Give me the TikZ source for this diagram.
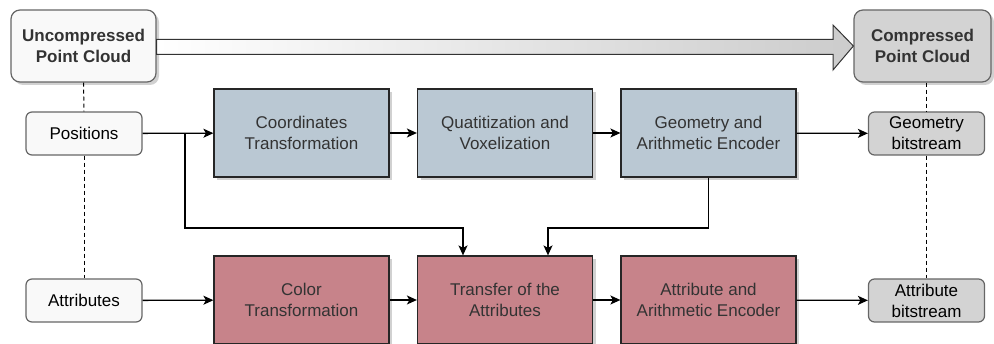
\documentclass[tikz,border=0pt]{standalone}
\usepackage{fontspec}
\setmainfont{Liberation Sans}
\usetikzlibrary{arrows.meta,shadows,positioning}
\definecolor{edgegray}{HTML}{666666}
\definecolor{txtgray}{HTML}{333333}
\definecolor{geofill}{HTML}{BAC8D3}
\definecolor{attrfill}{HTML}{C7838A}
\definecolor{outfill}{HTML}{D3D3D3}
\definecolor{infill}{HTML}{F9F9F9}
\tikzset{
  txt/.style={font=\fontsize{17}{21}\selectfont, align=center, inner sep=0pt},
  cloudbox/.style={txt, draw=edgegray, line width=1.2pt, rounded corners=9pt,
    minimum height=72pt, font=\fontsize{17}{21}\selectfont\bfseries, text=txtgray,
    drop shadow={shadow xshift=3pt, shadow yshift=-3pt, fill=black!30, opacity=0.6}},
  databox/.style={txt, draw=edgegray, line width=1.2pt, rounded corners=6pt,
    minimum width=116pt, minimum height=43pt},
  procbox/.style={txt, draw=black!85, line width=1.2pt, text=txtgray,
    minimum width=175pt, minimum height=88pt,
    drop shadow={shadow xshift=3pt, shadow yshift=-3pt, fill=black!30, opacity=0.6}},
  flow/.style={line width=1.3pt, -{Stealth[length=10pt,width=9pt,inset=2.5pt]}},
  guide/.style={line width=1pt, dash pattern=on 4pt off 3pt},
}
\begin{document}
\begin{tikzpicture}[x=1pt,y=-1pt]
\useasboundingbox (0,0) rectangle (994,344);

% top row: input and output clouds
\node[cloudbox, fill=infill, minimum width=145pt] (unc) at (83.5,46) {Uncompressed\\Point Cloud};
\node[cloudbox, fill=outfill, minimum width=137pt] (comp) at (922.5,46) {Compressed\\Point Cloud};

% big compression arrow between the clouds
\shade[left color=white, right color=black!20, draw=black!80, line width=1pt]
  (unc.east |- 0,39.5) -- (833,39.5) -- (833,25) -- (comp.west) -- (833,70) -- (833,54.5)
  -- (unc.east |- 0,54.5) -- cycle;

% data components
\node[databox, fill=infill] (pos) at (84,133.5) {Positions};
\node[databox, fill=infill] (att) at (84,300.5) {Attributes};
\node[databox, fill=outfill] (gbit) at (926.5,133.5) {Geometry\\bitstream};
\node[databox, fill=outfill] (abit) at (926.5,300.5) {Attribute\\bitstream};

% geometry chain
\node[procbox, fill=geofill] (coord) at (301.5,133) {Coordinates\\Transformation};
\node[procbox, fill=geofill] (quant) at (505,133) {Quatitization and\\Voxelization};
\node[procbox, fill=geofill] (genc) at (708.5,133) {Geometry and\\Arithmetic Encoder};

% attribute chain
\node[procbox, fill=attrfill] (color) at (301.5,300) {Color\\Transformation};
\node[procbox, fill=attrfill] (transfer) at (505,300) {Transfer of the\\Attributes};
\node[procbox, fill=attrfill] (aenc) at (708.5,300) {Attribute and\\Arithmetic Encoder};

% dashed guides
\draw[guide] (unc.south) -- (pos.north);
\draw[guide] (pos.south) -- (att.north);
\draw[guide] (gbit.north |- comp.south) -- (gbit.north);
\draw[guide] (gbit.south) -- (abit.north);

% flows
\draw[flow] (pos) -- (coord);
\draw[flow] (coord) -- (quant);
\draw[flow] (quant) -- (genc);
\draw[flow] (genc) -- (gbit);
\draw[flow] (att) -- (color);
\draw[flow] (color) -- (transfer);
\draw[flow] (transfer) -- (aenc);
\draw[flow] (aenc) -- (abit);

% side inputs into the transfer stage
\coordinate (split) at (185,133.5);
\draw[flow] (split) -- (185,228) -- (463,228) -- (463,0 |- transfer.north);
\draw[flow] (genc.south) -- (genc.south |- 0,228) -- (548,228) -- (548,0 |- transfer.north);
\end{tikzpicture}
\end{document}
